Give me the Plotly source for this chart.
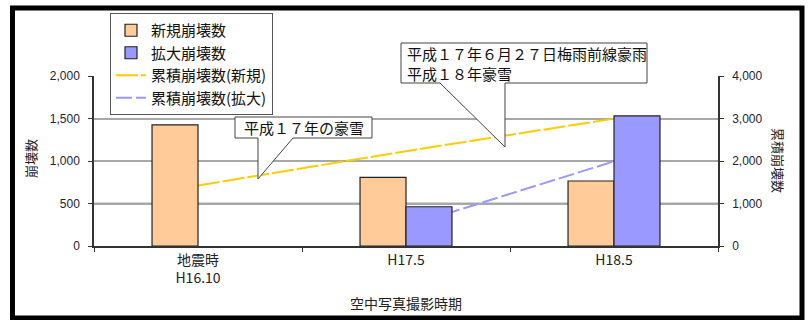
import plotly.graph_objects as go

# Survey periods (aerial photography) and slope-failure counts
periods = ["地震時<br>H16.10", "H17.5", "H18.5"]
new_failures = [1424, 808, 765]          # 新規崩壊数
expanded_failures = [None, 462, 1530]    # 拡大崩壊数
cum_new = [1424, 2232, 2997]             # 累積崩壊数(新規)
cum_expanded = [None, 462, 1992]         # 累積崩壊数(拡大)

left_ticks = [0, 500, 1000, 1500, 2000]
right_ticks = [0, 1000, 2000, 3000, 4000]

W, H = 808, 320
L, R, T, B = 94, 718, 76, 246   # plot area in pixels


def px(x):
    return (x - L) / (R - L)


def py(y):
    return (B - y) / (B - T)


def path(points):
    return "M " + " L ".join(f"{px(x):.5f},{py(y):.5f}" for x, y in points) + " Z"


FONT = "Noto Sans CJK JP, Liberation Sans, Arial"
NUM_FONT = "Liberation Sans, Arial"

fig = go.Figure()

fig.add_trace(go.Bar(
    x=periods, y=new_failures, name="新規崩壊数", yaxis="y2",
    marker=dict(color="#FFCC99", line=dict(color="#222222", width=1.2)),
))
fig.add_trace(go.Bar(
    x=periods, y=expanded_failures, name="拡大崩壊数", yaxis="y2",
    marker=dict(color="#9999FF", line=dict(color="#222222", width=1.2)),
))
fig.add_trace(go.Scatter(
    x=periods, y=cum_new, name="累積崩壊数(新規)", yaxis="y", mode="lines",
    line=dict(color="#FFCC00", width=2, dash="22px,3px"),
))
fig.add_trace(go.Scatter(
    x=periods, y=cum_expanded, name="累積崩壊数(拡大)", yaxis="y", mode="lines",
    line=dict(color="#9999FF", width=2, dash="16px,4px"),
))

shapes = [
    # outer frame
    dict(type="rect", xref="paper", yref="paper",
         x0=px(12.5), x1=px(802), y0=py(8), y1=py(318),
         line=dict(color="black", width=5), layer="below"),
    # darker 500 gridline
    dict(type="line", xref="paper", yref="y2", x0=0, x1=1, y0=500, y1=500,
         line=dict(color="#555555", width=1.5), layer="below"),
    # callout: 2005 heavy snow
    dict(type="path", xref="paper", yref="paper",
         path=path([(235, 117), (372, 117), (372, 138), (293, 138),
                    (258, 179), (258, 138), (235, 138)]),
         fillcolor="white", line=dict(color="#444444", width=1), layer="above"),
    # callout: 2005 rainy season front / 2006 heavy snow
    dict(type="path", xref="paper", yref="paper",
         path=path([(401, 43), (647, 43), (647, 83), (505, 83),
                    (505, 147), (440, 83), (401, 83)]),
         fillcolor="white", line=dict(color="#444444", width=1), layer="above"),
]

annotations = [
    dict(xref="paper", yref="paper", x=px(303.5), y=py(127.5),
         text="平成１７年の豪雪", showarrow=False,
         font=dict(family=FONT, size=15, color="#111111"),
         xanchor="center", yanchor="middle"),
    dict(xref="paper", yref="paper", x=px(405), y=py(63),
         text="平成１７年６月２７日梅雨前線豪雨<br>平成１８年豪雪", showarrow=False,
         align="left", font=dict(family=FONT, size=15, color="#111111"),
         xanchor="left", yanchor="middle"),
    # axis titles
    dict(xref="paper", yref="paper", x=px(406), y=py(303),
         text="空中写真撮影時期", showarrow=False,
         font=dict(family=FONT, size=14, color="#222222"),
         xanchor="center", yanchor="middle"),
    dict(xref="paper", yref="paper", x=px(30), y=py(159),
         text="崩壊数", showarrow=False, textangle=-90,
         font=dict(family=FONT, size=13, color="#222222"),
         xanchor="center", yanchor="middle"),
    dict(xref="paper", yref="paper", x=px(779), y=py(160),
         text="累積崩壊数", showarrow=False, textangle=90,
         font=dict(family=FONT, size=13, color="#222222"),
         xanchor="center", yanchor="middle"),
]

fig.update_layout(
    width=W, height=H,
    margin=dict(l=L, r=W - R, t=T, b=H - B, pad=0),
    paper_bgcolor="white", plot_bgcolor="white",
    barmode="group", bargap=0.558, bargroupgap=0,
    showlegend=True,
    legend=dict(
        x=px(110), y=py(13), xanchor="left", yanchor="top",
        bgcolor="white", bordercolor="#555555", borderwidth=1,
        font=dict(family=FONT, size=15, color="#111111"),
        tracegroupgap=0, itemwidth=30,
    ),
    xaxis=dict(
        type="category", showline=True, linecolor="#333333", linewidth=1.5,
        ticks="outside", tickson="boundaries", ticklen=4, tickcolor="#333333",
        tickfont=dict(family=FONT, size=14, color="#222222"),
        showgrid=False, zeroline=False,
    ),
    yaxis=dict(
        side="right", range=[0, 4000], tickvals=right_ticks, tickformat=",",
        showgrid=True, gridcolor="#A8A8A8", gridwidth=1.5,
        showline=True, linecolor="#333333", linewidth=1.5,
        ticks="outside", ticklen=4, tickcolor="#333333", ticklabelstandoff=6,
        tickfont=dict(family=NUM_FONT, size=12, color="#222233"),
        zeroline=False,
    ),
    yaxis2=dict(
        overlaying="y", side="left", range=[0, 2000], tickvals=left_ticks,
        tickformat=",", showgrid=False,
        showline=True, linecolor="#333333", linewidth=1.5,
        ticks="outside", ticklen=4, tickcolor="#333333", ticklabelstandoff=6,
        tickfont=dict(family=NUM_FONT, size=12, color="#222233"),
        zeroline=False,
    ),
    shapes=shapes,
    annotations=annotations,
)

fig.write_html("out.html")
